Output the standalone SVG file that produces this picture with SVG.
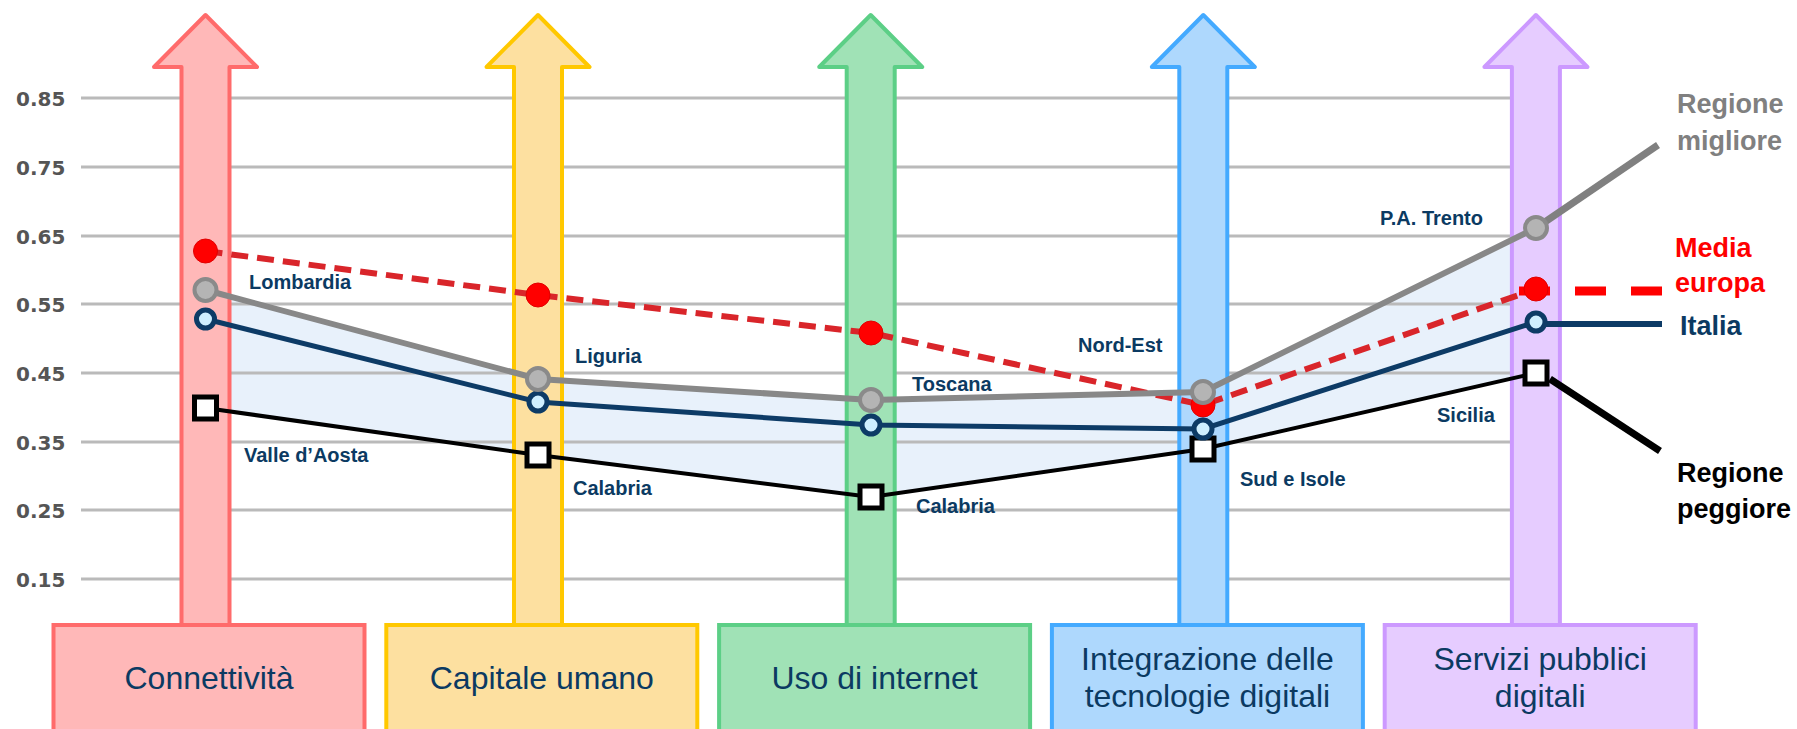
<svg xmlns="http://www.w3.org/2000/svg" width="1797" height="729" viewBox="0 0 1797 729">
<defs>
<style>
.grid{stroke:#bababa;stroke-width:3}
.ax{font-family:"DejaVu Sans",sans-serif;font-weight:bold;font-size:20px;fill:#555}
.arrow{stroke-width:4;stroke-linejoin:round}
.box{stroke-width:4}
.bt{font-family:"Liberation Sans",Arial,sans-serif;font-size:32px;fill:#0b3a62;text-anchor:middle}
.lbl{font-family:"Liberation Sans",Arial,sans-serif;font-weight:bold;font-size:20px;fill:#0b3a62}
.leg{font-family:"Liberation Sans",Arial,sans-serif;font-weight:bold;font-size:27px}
.c1{fill:#ffb8b8;stroke:#ff6b6b}
.c2{fill:#fde0a0;stroke:#ffc800}
.c3{fill:#a0e2b6;stroke:#5ccf86}
.c4{fill:#aed8fd;stroke:#44aaff}
.c5{fill:#e6ccff;stroke:#cc99ff}
.gm{fill:#b4b4b4;stroke:#8a8a8a;stroke-width:4}
.nm{fill:#cfefff;stroke:#0d3b66;stroke-width:5}
.rm{fill:#ff0000;stroke:#e00000;stroke-width:1}
.bm{fill:#fff;stroke:#000;stroke-width:5}
</style>
</defs>
<rect width="1797" height="729" fill="#fff"/>
<!-- shaded range band -->
<polygon points="205.5,290 538,379 871,400 1203,392 1536,228 1536,373 1203,449 871,497 538,455 205.5,408" fill="#e8f1fb"/>
<!-- grid -->
<g id="grid">
<line class="grid" x1="81" y1="98" x2="1536" y2="98"/>
<line class="grid" x1="81" y1="167" x2="1536" y2="167"/>
<line class="grid" x1="81" y1="236" x2="1536" y2="236"/>
<line class="grid" x1="81" y1="304" x2="1536" y2="304"/>
<line class="grid" x1="81" y1="373" x2="1536" y2="373"/>
<line class="grid" x1="81" y1="442" x2="1536" y2="442"/>
<line class="grid" x1="81" y1="510" x2="1536" y2="510"/>
<line class="grid" x1="81" y1="579" x2="1536" y2="579"/>
<text class="ax" x="16" y="106">0.85</text>
<text class="ax" x="16" y="175">0.75</text>
<text class="ax" x="16" y="244">0.65</text>
<text class="ax" x="16" y="312">0.55</text>
<text class="ax" x="16" y="381">0.45</text>
<text class="ax" x="16" y="450">0.35</text>
<text class="ax" x="16" y="518">0.25</text>
<text class="ax" x="16" y="587">0.15</text>
</g>
<!-- columns -->
<g id="connettivita">
<path class="arrow c1" d="M205.5,15 L257,67 L229.5,67 L229.5,626 L181.5,626 L181.5,67 L154,67 Z"/>
<rect class="box c1" x="53.5" y="625" width="311" height="120"/>
<text class="bt" x="209" y="689">Connettività</text>
</g>
<g id="capitale-umano">
<path class="arrow c2" d="M538,15 L589.5,67 L562,67 L562,626 L514,626 L514,67 L486.5,67 Z"/>
<rect class="box c2" x="386.3" y="625" width="311" height="120"/>
<text class="bt" x="541.8" y="689">Capitale umano</text>
</g>
<g id="uso-internet">
<path class="arrow c3" d="M870.7,15 L922.2,67 L894.7,67 L894.7,626 L846.7,626 L846.7,67 L819.2,67 Z"/>
<rect class="box c3" x="719.1" y="625" width="311" height="120"/>
<text class="bt" x="874.6" y="689">Uso di internet</text>
</g>
<g id="integrazione">
<path class="arrow c4" d="M1203.3,15 L1254.8,67 L1227.3,67 L1227.3,626 L1179.3,626 L1179.3,67 L1151.8,67 Z"/>
<rect class="box c4" x="1051.9" y="625" width="311" height="120"/>
<text class="bt" x="1207.4" y="670">Integrazione delle</text>
<text class="bt" x="1207.4" y="707">tecnologie digitali</text>
</g>
<g id="servizi">
<path class="arrow c5" d="M1535.9,15 L1587.4,67 L1559.9,67 L1559.9,626 L1511.9,626 L1511.9,67 L1484.4,67 Z"/>
<rect class="box c5" x="1384.7" y="625" width="311" height="120"/>
<text class="bt" x="1540.2" y="670">Servizi pubblici</text>
<text class="bt" x="1540.2" y="707">digitali</text>
</g>
<!-- series -->
<g id="series">
<g id="media-europa">
<polyline points="205.5,251 538,295 871,333 1203,405 1536,289" fill="none" stroke="#d9252a" stroke-width="6" stroke-dasharray="17 9"/>
<line x1="1519" y1="291" x2="1662" y2="291" stroke="#ff0000" stroke-width="9" stroke-dasharray="31 25"/>
<circle class="rm" cx="205.5" cy="251" r="12"/>
<circle class="rm" cx="538" cy="295" r="12"/>
<circle class="rm" cx="871" cy="333" r="12"/>
<circle class="rm" cx="1203" cy="405" r="12"/>
<circle class="rm" cx="1536" cy="289" r="12"/>
</g>
<g id="regione-peggiore">
<polyline points="205.5,408 538,455 871,497 1203,449 1536,373" fill="none" stroke="#000" stroke-width="4"/>
<line x1="1550" y1="379" x2="1660" y2="451" stroke="#000" stroke-width="7"/>
<rect class="bm" x="194.5" y="397" width="22" height="22"/>
<rect class="bm" x="527" y="444" width="22" height="22"/>
<rect class="bm" x="860" y="486" width="22" height="22"/>
<rect class="bm" x="1192" y="438" width="22" height="22"/>
<rect class="bm" x="1525" y="362" width="22" height="22"/>
</g>
<g id="italia">
<polyline points="205.5,319 538,402 871,425 1203,429 1536,322" fill="none" stroke="#0d3b66" stroke-width="5"/>
<line x1="1536" y1="324" x2="1662" y2="324" stroke="#0d3b66" stroke-width="6"/>
<circle class="nm" cx="205.5" cy="319" r="9"/>
<circle class="nm" cx="538" cy="402" r="9"/>
<circle class="nm" cx="871" cy="425" r="9"/>
<circle class="nm" cx="1203" cy="429" r="9"/>
<circle class="nm" cx="1536" cy="322" r="9"/>
</g>
<g id="regione-migliore">
<polyline points="205.5,290 538,379 871,400 1203,392 1536,228" fill="none" stroke="#888" stroke-width="6"/>
<line x1="1536" y1="228" x2="1658" y2="145" stroke="#808080" stroke-width="7"/>
<circle class="gm" cx="205.5" cy="290" r="11"/>
<circle class="gm" cx="538" cy="379" r="11"/>
<circle class="gm" cx="871" cy="400" r="11"/>
<circle class="gm" cx="1203" cy="392" r="11"/>
<circle class="gm" cx="1536" cy="228" r="11"/>
</g>
</g>
<!-- data labels -->
<g id="labels">
<text class="lbl" x="249" y="289">Lombardia</text>
<text class="lbl" x="244" y="462">Valle d’Aosta</text>
<text class="lbl" x="575" y="363">Liguria</text>
<text class="lbl" x="573" y="495">Calabria</text>
<text class="lbl" x="912" y="391">Toscana</text>
<text class="lbl" x="916" y="513">Calabria</text>
<text class="lbl" x="1078" y="352">Nord-Est</text>
<text class="lbl" x="1240" y="486">Sud e Isole</text>
<text class="lbl" x="1437" y="422">Sicilia</text>
<text class="lbl" x="1380" y="225">P.A. Trento</text>
</g>
<g id="legend">
<text class="leg" x="1677" y="113" fill="#808080">Regione</text>
<text class="leg" x="1677" y="150" fill="#808080">migliore</text>
<text class="leg" x="1675" y="257" fill="#ff0000">Media</text>
<text class="leg" x="1675" y="292" fill="#ff0000">europa</text>
<text class="leg" x="1680" y="335" fill="#0b3a62">Italia</text>
<text class="leg" x="1677" y="482" fill="#000">Regione</text>
<text class="leg" x="1677" y="518" fill="#000">peggiore</text>
</g>
</svg>
